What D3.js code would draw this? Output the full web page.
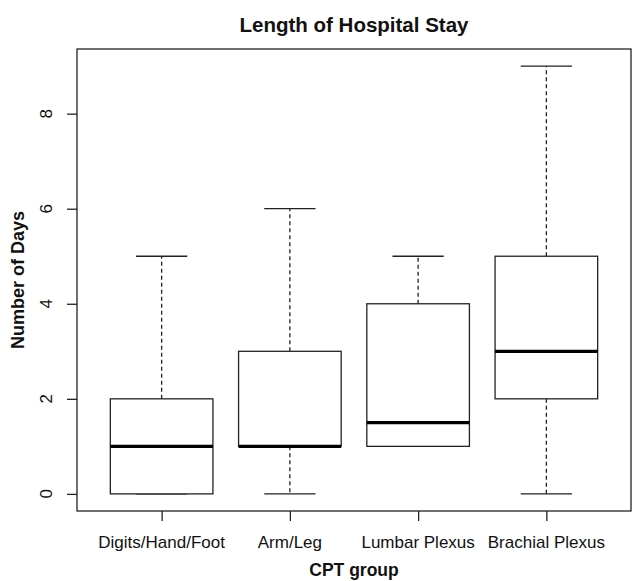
<!DOCTYPE html>
<html>
<head>
<meta charset="utf-8">
<script src="https://cdn.jsdelivr.net/npm/d3@7"></script>
<style>
  body { margin: 0; background: #fff; }
  text { font-family: "Liberation Sans", Arial, sans-serif; fill: #111; }
</style>
</head>
<body>
<div id="chart"></div>
<script>
// data
const groups  = ["Digits/Hand/Foot", "Arm/Leg", "Lumbar Plexus", "Brachial Plexus"];
const mins    = [0, 0, 1, 0];
const q1s     = [0, 1, 1, 2];
const medians = [1, 1, 1.5, 3];
const q3s     = [2, 3, 4, 5];
const maxs    = [5, 6, 5, 9];
const yTicks  = [0, 2, 4, 6, 8];

const W = 633, H = 581;
const plot = {left: 77, right: 631, top: 49, bottom: 511};

const svg = d3.select("#chart")
    .append("svg")
    .attr("width", W)
    .attr("height", H);

const data = groups.map((g, i) => ({
    name: g, pos: i + 1,
    min: mins[i], q1: q1s[i], med: medians[i], q3: q3s[i], max: maxs[i]
}));

// R style scales: extend range by 4%
const x = d3.scaleLinear()
    .domain([0.5 - 0.16, 4.5 + 0.16])
    .range([plot.left, plot.right]);
const y = d3.scaleLinear()
    .domain([0 - 0.36, 9 + 0.36])
    .range([plot.bottom, plot.top]);

const boxW = x(1.4) - x(0.6);
const capW = boxW / 2;
const ink = "#222";

// frame
svg.append("rect")
    .attr("x", plot.left).attr("y", plot.top)
    .attr("width", plot.right - plot.left)
    .attr("height", plot.bottom - plot.top)
    .attr("fill", "none").attr("stroke", ink).attr("stroke-width", 1.3);

// y axis
const yAxis = svg.append("g")
    .attr("transform", `translate(${plot.left},0)`)
    .call(d3.axisLeft(y).tickValues(yTicks).tickSize(10).tickFormat(""));
yAxis.select(".domain").remove();
yAxis.selectAll("line").attr("stroke", ink).attr("stroke-width", 1.3);

svg.append("g").selectAll("text")
    .data(yTicks)
    .join("text")
    .attr("transform", d => `translate(52,${y(d)}) rotate(-90)`)
    .attr("text-anchor", "middle")
    .attr("font-size", 17)
    .text(d => d);

// x axis
const xAxis = svg.append("g")
    .attr("transform", `translate(0,${plot.bottom})`)
    .call(d3.axisBottom(x).tickValues([1, 2, 3, 4]).tickSize(10).tickFormat(""));
xAxis.select(".domain").remove();
xAxis.selectAll("line").attr("stroke", ink).attr("stroke-width", 1.3);

svg.append("g").selectAll("text")
    .data(data)
    .join("text")
    .attr("x", d => x(d.pos))
    .attr("y", 548)
    .attr("text-anchor", "middle")
    .attr("font-size", 17)
    .text(d => d.name);

// boxes
const boxes = svg.append("g").selectAll("g")
    .data(data)
    .join("g");

// whiskers (dashed)
boxes.filter(d => d.max > d.q3).append("line")
    .attr("x1", d => x(d.pos)).attr("x2", d => x(d.pos))
    .attr("y1", d => y(d.q3)).attr("y2", d => y(d.max))
    .attr("stroke", ink).attr("stroke-width", 1.3)
    .attr("stroke-dasharray", "4,3");
boxes.filter(d => d.min < d.q1).append("line")
    .attr("x1", d => x(d.pos)).attr("x2", d => x(d.pos))
    .attr("y1", d => y(d.q1)).attr("y2", d => y(d.min))
    .attr("stroke", ink).attr("stroke-width", 1.3)
    .attr("stroke-dasharray", "4,3");

// caps
boxes.append("line")
    .attr("x1", d => x(d.pos) - capW / 2).attr("x2", d => x(d.pos) + capW / 2)
    .attr("y1", d => y(d.max)).attr("y2", d => y(d.max))
    .attr("stroke", ink).attr("stroke-width", 1.3);
boxes.append("line")
    .attr("x1", d => x(d.pos) - capW / 2).attr("x2", d => x(d.pos) + capW / 2)
    .attr("y1", d => y(d.min)).attr("y2", d => y(d.min))
    .attr("stroke", ink).attr("stroke-width", 1.3);

// box
boxes.append("rect")
    .attr("x", d => x(d.pos) - boxW / 2)
    .attr("y", d => y(d.q3))
    .attr("width", boxW)
    .attr("height", d => y(d.q1) - y(d.q3))
    .attr("fill", "#fff").attr("stroke", ink).attr("stroke-width", 1.3);

// median
boxes.append("line")
    .attr("x1", d => x(d.pos) - boxW / 2).attr("x2", d => x(d.pos) + boxW / 2)
    .attr("y1", d => y(d.med)).attr("y2", d => y(d.med))
    .attr("stroke", "#000").attr("stroke-width", 3.2);

// titles
svg.append("text")
    .attr("x", (plot.left + plot.right) / 2)
    .attr("y", 32)
    .attr("text-anchor", "middle")
    .attr("font-size", 20.5)
    .attr("font-weight", "bold")
    .text("Length of Hospital Stay");

svg.append("text")
    .attr("x", (plot.left + plot.right) / 2)
    .attr("y", 576)
    .attr("text-anchor", "middle")
    .attr("font-size", 17.5)
    .attr("font-weight", "bold")
    .text("CPT group");

svg.append("text")
    .attr("transform", `translate(24,${(plot.top + plot.bottom) / 2}) rotate(-90)`)
    .attr("text-anchor", "middle")
    .attr("font-size", 18)
    .attr("font-weight", "bold")
    .text("Number of Days");
</script>
</body>
</html>
